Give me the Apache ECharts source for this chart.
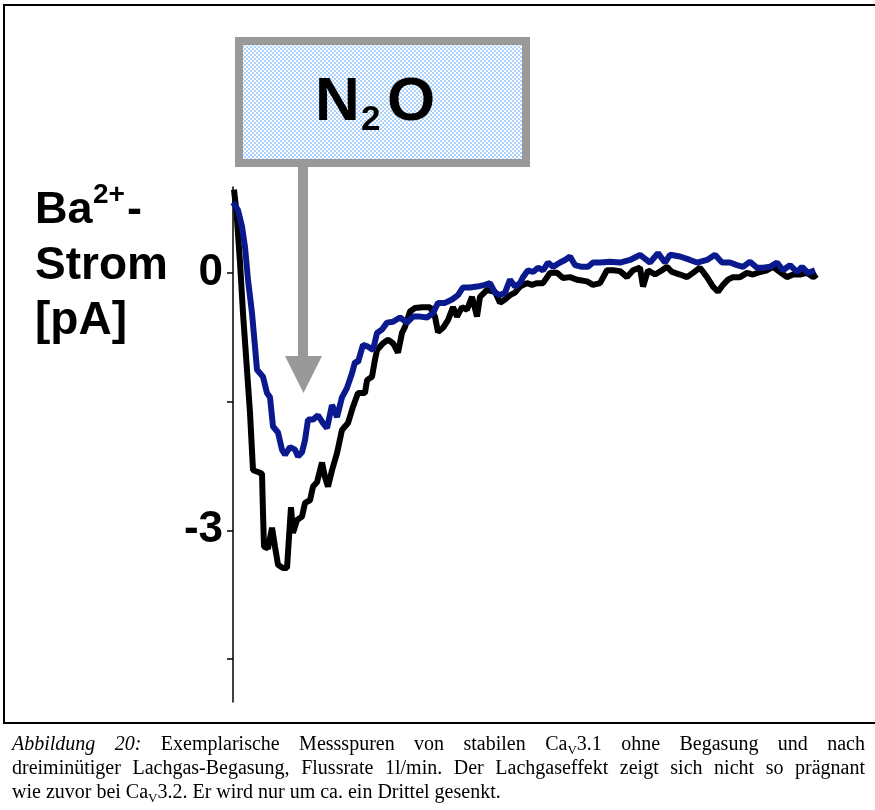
<!DOCTYPE html>
<html>
<head>
<meta charset="utf-8">
<script src="https://cdn.jsdelivr.net/npm/echarts@6/dist/echarts.min.js"></script>
<style>
  html, body { margin: 0; padding: 0; background: #fff; }
  #chart { width: 875px; height: 810px; }
</style>
</head>
<body>
<div id="chart"></div>
<script>
// Time axis in ms, current in pA
const controlTime = [0.2, 0.7, 1.4, 2.0, 2.7, 3.4, 4.0, 5.0, 5.8, 6.0, 6.2, 7.0, 7.8, 8.4, 9.0, 10.0, 10.8, 11.2, 11.6, 12.0,
  12.8, 13.8, 14.4, 15.4, 16.0, 16.8, 17.8, 18.4, 19.0, 19.8, 20.8, 21.8, 23.0, 24.0, 25.0, 26.4, 26.8, 27.8, 28.4, 28.8,
  30.0, 31.0, 32.0, 33.0, 33.8, 34.4, 35.4, 36.4, 37.8, 39.4, 40.4, 41.0, 42.0, 43.0, 44.0, 44.8, 45.8, 46.8, 47.8, 48.8,
  49.4, 50.8, 52.4, 53.4, 54.4, 55.4, 56.4, 57.4, 58.8, 59.8, 60.8, 62.0, 63.4, 64.8, 66.0, 67.4, 68.8, 70.8, 72.0, 73.4,
  74.8, 76.0, 77.4, 78.8, 80.0, 81.4, 82.0, 83.0, 84.4, 85.8, 86.8, 87.8, 89.4, 90.8, 92.0, 93.4, 94.8, 96.0, 97.0, 98.0,
  99.0, 100.0, 101.4, 102.8, 104.0, 105.4, 106.8, 108.0, 109.4, 110.8, 112.0, 113.4, 114.8, 116.0, 116.8];
const controlCurrent = [0.97, 0.70, 0.12, -0.47, -1.05, -1.63, -2.30, -2.32, -2.34, -2.80, -3.19, -3.21, -2.97, -3.19, -3.40, -3.44, -3.44, -3.08, -2.73, -3.03,
  -2.88, -2.84, -2.68, -2.65, -2.49, -2.44, -2.21, -2.38, -2.49, -2.30, -2.10, -1.83, -1.75, -1.56, -1.40, -1.40, -1.25, -1.21, -1.01, -0.90,
  -0.82, -0.78, -0.82, -0.93, -0.70, -0.63, -0.45, -0.41, -0.40, -0.40, -0.51, -0.69, -0.64, -0.55, -0.40, -0.51, -0.40, -0.43, -0.28, -0.51,
  -0.28, -0.20, -0.22, -0.35, -0.31, -0.26, -0.23, -0.16, -0.12, -0.14, -0.12, -0.12, 0.00, 0.00, -0.06, -0.05, -0.08, -0.10, -0.14, -0.12,
  0.03, 0.03, 0.02, -0.05, 0.03, 0.06, -0.16, 0.03, -0.02, 0.03, 0.07, 0.01, -0.02, -0.05, 0.00, 0.06, -0.05, -0.16, -0.22, -0.14,
  -0.08, -0.05, -0.05, 0.00, -0.02, 0.01, 0.03, 0.07, 0.01, -0.05, -0.02, -0.02, 0.00, -0.05, -0.02];

const gasTime = [0.0, 1.0, 1.8, 2.4, 3.0, 3.8, 4.4, 4.8, 5.4, 6.0, 6.8, 7.4, 8.0, 9.0, 9.8, 10.4, 11.4, 12.4, 13.0, 13.8,
  14.4, 15.0, 16.0, 17.0, 18.0, 18.8, 19.8, 20.8, 21.8, 22.8, 23.8, 24.4, 25.0, 26.0, 27.0, 28.0, 28.8, 29.8, 30.8, 32.0,
  33.4, 34.8, 36.0, 37.4, 38.8, 40.0, 41.0, 42.4, 43.8, 45.0, 46.0, 47.4, 48.8, 50.4, 51.4, 52.4, 53.4, 54.4, 55.4, 56.4,
  57.4, 58.0, 59.0, 60.0, 61.0, 62.0, 63.0, 64.0, 65.4, 66.4, 67.4, 68.4, 69.8, 71.0, 72.0, 73.4, 75.4, 77.4, 79.4, 81.4,
  83.4, 85.0, 86.4, 87.4, 89.4, 91.4, 92.8, 94.8, 96.4, 97.8, 99.4, 100.8, 102.0, 103.4, 104.8, 106.0, 107.4, 108.8, 110.0, 111.4,
  112.8, 113.8, 115.0, 116.4];
const gasCurrent = [0.82, 0.73, 0.54, 0.30, -0.08, -0.47, -0.86, -1.13, -1.17, -1.21, -1.40, -1.45, -1.79, -1.86, -2.06, -2.12, -2.03, -2.06, -2.14, -2.09,
  -1.95, -1.71, -1.71, -1.66, -1.75, -1.81, -1.54, -1.68, -1.45, -1.34, -1.17, -1.04, -1.04, -0.84, -0.86, -0.90, -0.70, -0.66, -0.58, -0.57,
  -0.52, -0.58, -0.51, -0.51, -0.52, -0.47, -0.35, -0.35, -0.31, -0.26, -0.17, -0.17, -0.16, -0.14, -0.12, -0.23, -0.26, -0.23, -0.08, -0.16,
  -0.12, -0.05, 0.03, 0.01, 0.06, 0.03, 0.12, 0.07, 0.12, 0.15, 0.19, 0.09, 0.07, 0.07, 0.12, 0.12, 0.13, 0.12, 0.15, 0.21,
  0.12, 0.23, 0.12, 0.21, 0.19, 0.15, 0.12, 0.15, 0.21, 0.12, 0.12, 0.09, 0.07, 0.13, 0.06, 0.06, 0.07, 0.12, 0.03, 0.09,
  0.01, 0.07, 0.00, 0.03];

const tickValues = [-4.5, -3, -1.5, 0];
const labelValues = [-3, 0];

const zip = (xs, ys) => xs.map((x, i) => [x, ys[i]]);

// light blue / white checker fill for the gas box
const pat = document.createElement('canvas');
pat.width = 4; pat.height = 4;
const pctx = pat.getContext('2d');
pctx.fillStyle = '#ffffff'; pctx.fillRect(0, 0, 4, 4);
pctx.fillStyle = '#add3fa'; pctx.fillRect(0, 0, 2, 2); pctx.fillRect(2, 2, 2, 2);

// baseline helper: 'middle' places the glyph centre roughly 0.345em above the baseline
const SANS = '"Liberation Sans", Arial, sans-serif';
const SERIF = '"Liberation Serif", "Times New Roman", serif';
function txt(x, baseline, text, size, opt) {
  opt = opt || {};
  return {
    type: 'text', x: x, y: baseline - 0.345 * size, z: 10,
    style: {
      text: text, fill: '#000', fontSize: size,
      fontFamily: opt.family || SANS,
      fontWeight: opt.weight || 'bold',
      fontStyle: opt.style || 'normal',
      align: 'left', verticalAlign: 'middle'
    }
  };
}

// caption: runs of [text, kind] with kind n (normal), i (italic), s (subscript)
const captionLines = [
  { justify: true, words: [[['Abbildung', 'i']], [['20:', 'i']], [['Exemplarische', 'n']], [['Messspuren', 'n']], [['von', 'n']],
    [['stabilen', 'n']], [['Ca', 'n'], ['V', 's'], ['3.1', 'n']], [['ohne', 'n']], [['Begasung', 'n']], [['und', 'n']], [['nach', 'n']]] },
  { justify: true, words: 'dreiminütiger Lachgas-Begasung, Flussrate 1l/min. Der Lachgaseffekt zeigt sich nicht so prägnant'
      .split(' ').map(w => [[w, 'n']]) },
  { justify: false, words: [[['wie', 'n']], [['zuvor', 'n']], [['bei', 'n']], [['Ca', 'n'], ['V', 's'], ['3.2.', 'n']], [['Er', 'n']],
    [['wird', 'n']], [['nur', 'n']], [['um', 'n']], [['ca.', 'n']], [['ein', 'n']], [['Drittel', 'n']], [['gesenkt.', 'n']]] }
];
const CAP_SIZE = 20, SUB_SIZE = 13;
const mctx = document.createElement('canvas').getContext('2d');
function fontOf(kind) {
  if (kind === 'i') return 'italic ' + CAP_SIZE + 'px ' + SERIF;
  if (kind === 's') return SUB_SIZE + 'px ' + SERIF;
  return CAP_SIZE + 'px ' + SERIF;
}
function runWidth(r) { mctx.font = fontOf(r[1]); return mctx.measureText(r[0]).width; }
function captionGraphics() {
  const left = 12, right = 865, out = [];
  mctx.font = fontOf('n');
  const space = mctx.measureText(' ').width;
  captionLines.forEach((line, li) => {
    const baseline = 752 + li * 24;
    const widths = line.words.map(w => w.reduce((s, r) => s + runWidth(r), 0));
    const total = widths.reduce((a, b) => a + b, 0);
    const gap = line.justify ? (right - left - total) / (line.words.length - 1) : space;
    let x = left;
    line.words.forEach((w, wi) => {
      let rx = x;
      w.forEach(r => {
        const sub = r[1] === 's';
        out.push(txt(rx, baseline + (sub ? 3 : 0), r[0], sub ? SUB_SIZE : CAP_SIZE,
          { family: SERIF, weight: 'normal', style: r[1] === 'i' ? 'italic' : 'normal' }));
        rx += runWidth(r);
      });
      x += widths[wi] + gap;
    });
  });
  return out;
}

const chart = echarts.init(document.getElementById('chart'), null, { renderer: 'canvas' });
chart.setOption({
  animation: false,
  backgroundColor: '#fff',
  grid: { left: 233, right: 57, top: 187, bottom: 108, containLabel: false },
  xAxis: { type: 'value', min: 0, max: 117, show: false },
  yAxis: {
    type: 'value', min: -5, max: 1,
    splitLine: { show: false },
    axisLine: { show: true, lineStyle: { color: '#000', width: 1.5 } },
    axisTick: { show: true, length: 6, lineStyle: { color: '#000', width: 1.5 }, customValues: tickValues },
    axisLabel: {
      customValues: labelValues, color: '#000', fontSize: 44, fontWeight: 'bold',
      fontFamily: SANS, margin: 10, padding: [0, 0, 8, 0]
    }
  },
  series: [
    { name: 'ohne Begasung', type: 'line', data: zip(controlTime, controlCurrent), showSymbol: false,
      lineStyle: { color: '#000', width: 6 }, z: 2 },
    { name: 'N2O', type: 'line', data: zip(gasTime, gasCurrent), showSymbol: false,
      lineStyle: { color: '#0a1a8e', width: 6 }, z: 3 }
  ],
  graphic: [
    // frame around the plot panel and caption separator
    { type: 'line', shape: { x1: 4, y1: 5, x2: 875, y2: 5 }, style: { stroke: '#000', lineWidth: 2 } },
    { type: 'line', shape: { x1: 4, y1: 4, x2: 4, y2: 723 }, style: { stroke: '#000', lineWidth: 2 } },
    { type: 'line', shape: { x1: 3, y1: 723, x2: 875, y2: 723 }, style: { stroke: '#000', lineWidth: 2 } },
    // gas application box and arrow
    { type: 'rect', shape: { x: 239, y: 41, width: 287, height: 122 },
      style: { fill: { image: pat, repeat: 'repeat' }, stroke: '#999', lineWidth: 8 }, z: 5 },
    { type: 'rect', shape: { x: 298, y: 167, width: 10, height: 190 }, style: { fill: '#999' }, z: 5 },
    { type: 'polygon', shape: { points: [[285, 356], [322, 356], [303.5, 393]] }, style: { fill: '#999' }, z: 5 },
    txt(315, 124, 'N', 62),
    txt(361, 132, '2', 35),
    txt(387, 124, 'O', 62),
    // y axis title
    txt(35, 226, 'Ba', 45),
    txt(93, 205, '2+', 28),
    txt(127, 226, '-', 45),
    txt(35, 282, 'Strom', 46),
    txt(35, 337, '[pA]', 46)
  ].concat(captionGraphics())
});
</script>
</body>
</html>
